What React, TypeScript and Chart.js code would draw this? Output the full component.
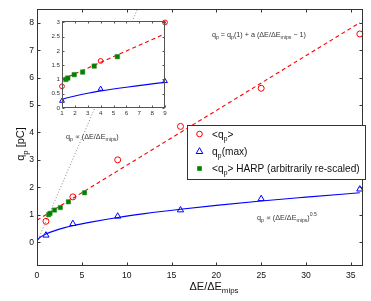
import React, { useEffect, useRef } from 'react';
import { Chart, registerables } from 'chart.js';
Chart.register(...registerables);

// ---- data ----
const meanX = [1, 4, 9, 16, 25, 36];
const meanY = [0.76, 1.65, 3.0, 4.22, 5.61, 7.59];
const maxX = [1, 4, 9, 16, 25, 36];
const maxY = [0.25, 0.67, 0.94, 1.17, 1.58, 1.93];
const harpX = [1.3, 1.45, 1.95, 2.6, 3.5, 5.3];
const harpY = [1.0, 1.05, 1.17, 1.26, 1.47, 1.8];
const linFitX = [0, 36];
const linFitY = [0.8, 8.0];
const sqrtFitX = [0.05, 0.25, 0.5, 1, 2, 3, 4, 6, 9, 12, 16, 20, 25, 30, 36];
const sqrtFitY = [0.07, 0.15, 0.21, 0.3, 0.42, 0.52, 0.6, 0.73, 0.9, 1.04, 1.2, 1.34, 1.5, 1.64, 1.8];
const propFitX = [0, 12];
const propFitY = [0, 9.1];

const mainXTicks = [0, 5, 10, 15, 20, 25, 30, 35];
const mainYTicks = [0, 1, 2, 3, 4, 5, 6, 7, 8];
const insetXTicks = [1, 2, 3, 4, 5, 6, 7, 8, 9];
const insetYTicks = [0, 0.5, 1, 1.5, 2, 2.5, 3];

const FONT = '"Liberation Sans", Arial, Helvetica, sans-serif';

type Seg = { t: string; s?: 'sub' | 'sup' };

function drawRich(ctx: CanvasRenderingContext2D, segs: Seg[], x: number, y: number, size: number, align: 'left' | 'center', color: string) {
  const small = size * 0.72;
  let w = 0;
  const widths: number[] = [];
  for (const sg of segs) {
    ctx.font = `${sg.s ? small : size}px ${FONT}`;
    const m = ctx.measureText(sg.t).width;
    widths.push(m);
    w += m;
  }
  let cx = align === 'center' ? x - w / 2 : x;
  ctx.textAlign = 'left';
  ctx.textBaseline = 'alphabetic';
  ctx.fillStyle = color;
  segs.forEach((sg, i) => {
    ctx.font = `${sg.s ? small : size}px ${FONT}`;
    const dy = sg.s === 'sub' ? size * 0.32 : sg.s === 'sup' ? -size * 0.42 : 0;
    ctx.fillText(sg.t, cx, y + dy);
    cx += widths[i];
  });
}

const toXY = (xs: number[], ys: number[]) => xs.map((x, i) => ({ x, y: ys[i] }));

function framePlugin(color: string, tickLen: number, fillWhite: boolean) {
  return {
    id: 'frameTicks',
    beforeDatasetsDraw(chart: any) {
      if (!fillWhite) return;
      const { ctx, chartArea: a } = chart;
      ctx.save();
      ctx.fillStyle = '#ffffff';
      ctx.fillRect(a.left, a.top, a.right - a.left, a.bottom - a.top);
      ctx.restore();
    },
    afterDatasetsDraw(chart: any) {
      const { ctx, chartArea: a, scales } = chart;
      const L = Math.round(a.left) + 0.5, R = Math.round(a.right) - 0.5;
      const T = Math.round(a.top) + 0.5, B = Math.round(a.bottom) - 0.5;
      ctx.save();
      ctx.strokeStyle = color;
      ctx.lineWidth = 1;
      ctx.beginPath();
      for (const t of scales.x.ticks) {
        const px = Math.round(scales.x.getPixelForValue(t.value)) + 0.5;
        ctx.moveTo(px, B); ctx.lineTo(px, B - tickLen);
        ctx.moveTo(px, T); ctx.lineTo(px, T + tickLen);
      }
      for (const t of scales.y.ticks) {
        const py = Math.round(scales.y.getPixelForValue(t.value)) + 0.5;
        ctx.moveTo(L, py); ctx.lineTo(L + tickLen, py);
        ctx.moveTo(R, py); ctx.lineTo(R - tickLen, py);
      }
      ctx.stroke();
      ctx.strokeRect(L, T, R - L, B - T);
      ctx.restore();
    },
  };
}

const qp: Seg[] = [{ t: 'q' }, { t: 'p', s: 'sub' }];
const ratio: Seg[] = [{ t: 'ΔE/ΔE' }, { t: 'mips', s: 'sub' }];

const mainOverlay = {
  id: 'mainOverlay',
  afterDraw(chart: any) {
    const ctx: CanvasRenderingContext2D = chart.ctx;
    ctx.save();
    // axis titles
    drawRich(ctx, ratio, 214, 289.5, 11, 'center', '#111');
    ctx.save();
    ctx.translate(24, 144);
    ctx.rotate(-Math.PI / 2);
    drawRich(ctx, [...qp, { t: ' [pC]' }], 0, 0, 11, 'center', '#111');
    ctx.restore();

    // annotations
    drawRich(ctx, [{ t: 'q' }, { t: 'p', s: 'sub' }, { t: ' = q' }, { t: 'p', s: 'sub' }, { t: '(1) + a (ΔE/ΔE' }, { t: 'mips', s: 'sub' }, { t: ' − 1)' }], 212, 37, 7.2, 'left', '#333');
    drawRich(ctx, [{ t: 'q' }, { t: 'p', s: 'sub' }, { t: ' ∝ (ΔE/ΔE' }, { t: 'mips', s: 'sub' }, { t: ')' }], 66, 138.5, 7.2, 'left', '#333');
    drawRich(ctx, [{ t: 'q' }, { t: 'p', s: 'sub' }, { t: ' ∝ (ΔE/ΔE' }, { t: 'mips', s: 'sub' }, { t: ')' }, { t: '0.5', s: 'sup' }], 257, 219.5, 7.2, 'left', '#333');

    // legend
    const bx = 187.5, by = 125.5, bw = 178, bh = 54;
    ctx.fillStyle = '#ffffff';
    ctx.fillRect(bx, by, bw, bh);
    ctx.strokeStyle = '#333';
    ctx.lineWidth = 1;
    ctx.strokeRect(bx, by, bw, bh);
    const mx = 199.5, tx = 212;
    const rows = [134, 151, 168.5];
    // circle
    ctx.strokeStyle = '#ff0000';
    ctx.beginPath(); ctx.arc(mx, rows[0], 2.8, 0, Math.PI * 2); ctx.stroke();
    // triangle
    ctx.strokeStyle = '#0000ff';
    ctx.beginPath();
    ctx.moveTo(mx, rows[1] - 3.3); ctx.lineTo(mx + 3.3, rows[1] + 2.5); ctx.lineTo(mx - 3.3, rows[1] + 2.5); ctx.closePath(); ctx.stroke();
    // square
    ctx.fillStyle = '#008000';
    ctx.fillRect(mx - 2.3, rows[2] - 2.3, 4.6, 4.6);
    const fs = 10.1;
    drawRich(ctx, [{ t: '<q' }, { t: 'p', s: 'sub' }, { t: '>' }], tx, rows[0] + 3.5, fs, 'left', '#111');
    drawRich(ctx, [{ t: 'q' }, { t: 'p', s: 'sub' }, { t: '(max)' }], tx, rows[1] + 3.5, fs, 'left', '#111');
    drawRich(ctx, [{ t: '<q' }, { t: 'p', s: 'sub' }, { t: '> HARP (arbitrarily re-scaled)' }], tx, rows[2] + 3.5, fs, 'left', '#111');
    ctx.restore();
  },
};

function makeDatasets(inset: boolean) {
  const ds: any[] = [];
  if (!inset) {
    ds.push({
      type: 'line', data: toXY(propFitX, propFitY), borderColor: '#888', borderWidth: 1,
      borderDash: [1, 2], pointRadius: 0, fill: false, order: 5,
    });
  }
  ds.push({
    type: 'line', data: toXY(linFitX, linFitY), borderColor: '#ff0000', borderWidth: 1.1,
    borderDash: [4, 3], pointRadius: 0, fill: false, order: 4,
  });
  ds.push({
    type: 'line', data: toXY(sqrtFitX, sqrtFitY), borderColor: '#0000ff', borderWidth: 1.1,
    pointRadius: 0, fill: false, tension: 0.3, cubicInterpolationMode: 'monotone', order: 4,
  });
  ds.push({
    type: 'scatter', data: toXY(harpX, harpY), pointStyle: 'rect', pointRadius: inset ? 3.2 : 3.1,
    backgroundColor: '#008000', borderColor: '#2f8f2f', borderWidth: 0.5, order: 1, clip: false,
  });
  ds.push({
    type: 'scatter', data: toXY(meanX, meanY), pointStyle: 'circle', pointRadius: inset ? 2.4 : 3,
    backgroundColor: 'rgba(0,0,0,0)', borderColor: '#ff0000', borderWidth: 1, order: 2, clip: false,
  });
  ds.push({
    type: 'scatter', data: toXY(maxX, maxY), pointStyle: 'triangle', pointRadius: inset ? 2.8 : 3.6,
    backgroundColor: 'rgba(0,0,0,0)', borderColor: '#0000ff', borderWidth: 1, order: 2, clip: false,
  });
  return ds;
}

export default function App() {
  const mainRef = useRef<HTMLCanvasElement>(null);
  const insetRef = useRef<HTMLCanvasElement>(null);

  useEffect(() => {
    const main = new Chart(mainRef.current!, {
      type: 'scatter',
      data: { datasets: makeDatasets(false) },
      options: {
        animation: false,
        responsive: false,
        devicePixelRatio: 1,
        layout: { padding: { left: 0, top: 9, right: 8.5, bottom: 0 } },
        plugins: { legend: { display: false }, tooltip: { enabled: false } },
        scales: {
          x: {
            type: 'linear', min: 0, max: 36.3,
            afterBuildTicks: (s: any) => { s.ticks = mainXTicks.map((v) => ({ value: v })); },
            afterFit: (s: any) => { s.height = 35; },
            grid: { display: false, drawTicks: false },
            border: { display: false },
            ticks: { padding: 4, color: '#111', font: { family: FONT, size: 8.6 }, maxRotation: 0, callback: (v: any) => String(v) },
          },
          y: {
            type: 'linear', min: -0.87, max: 8.5,
            afterBuildTicks: (s: any) => { s.ticks = mainYTicks.map((v) => ({ value: v })); },
            afterFit: (s: any) => { s.width = 37; },
            grid: { display: false, drawTicks: false },
            border: { display: false },
            ticks: { padding: 3, color: '#111', font: { family: FONT, size: 8.6 }, callback: (v: any) => String(v) },
          },
        },
      },
      plugins: [framePlugin('#333', 3, false), mainOverlay],
    } as any);

    const inset = new Chart(insetRef.current!, {
      type: 'scatter',
      data: { datasets: makeDatasets(true) },
      options: {
        animation: false,
        responsive: false,
        devicePixelRatio: 1,
        layout: { padding: { left: 0, top: 7, right: 4, bottom: 0 } },
        plugins: { legend: { display: false }, tooltip: { enabled: false } },
        scales: {
          x: {
            type: 'linear', min: 1, max: 9,
            afterBuildTicks: (s: any) => { s.ticks = insetXTicks.map((v) => ({ value: v })); },
            afterFit: (s: any) => { s.height = 16; },
            grid: { display: false, drawTicks: false },
            border: { display: false },
            ticks: { padding: 2, color: '#333', font: { family: FONT, size: 6.2 }, maxRotation: 0, autoSkip: false, callback: (v: any) => String(v) },
          },
          y: {
            type: 'linear', min: 0, max: 3.05,
            afterBuildTicks: (s: any) => { s.ticks = insetYTicks.map((v) => ({ value: v })); },
            afterFit: (s: any) => { s.width = 17; },
            grid: { display: false, drawTicks: false },
            border: { display: false },
            ticks: { padding: 2, color: '#333', font: { family: FONT, size: 6.2 }, autoSkip: false, callback: (v: any) => String(v) },
          },
        },
      },
      plugins: [framePlugin('#555', 2, true)],
    } as any);

    return () => { main.destroy(); inset.destroy(); };
  }, []);

  return (
    <div style={{ position: 'fixed', left: 0, top: 0, width: 371, height: 301, background: '#fff' }}>
      <canvas ref={mainRef} width={371} height={301} style={{ position: 'absolute', left: 0, top: 0, width: 371, height: 301 }} />
      <canvas ref={insetRef} width={125} height={110} style={{ position: 'absolute', left: 45, top: 14, width: 125, height: 110 }} />
    </div>
  );
}
